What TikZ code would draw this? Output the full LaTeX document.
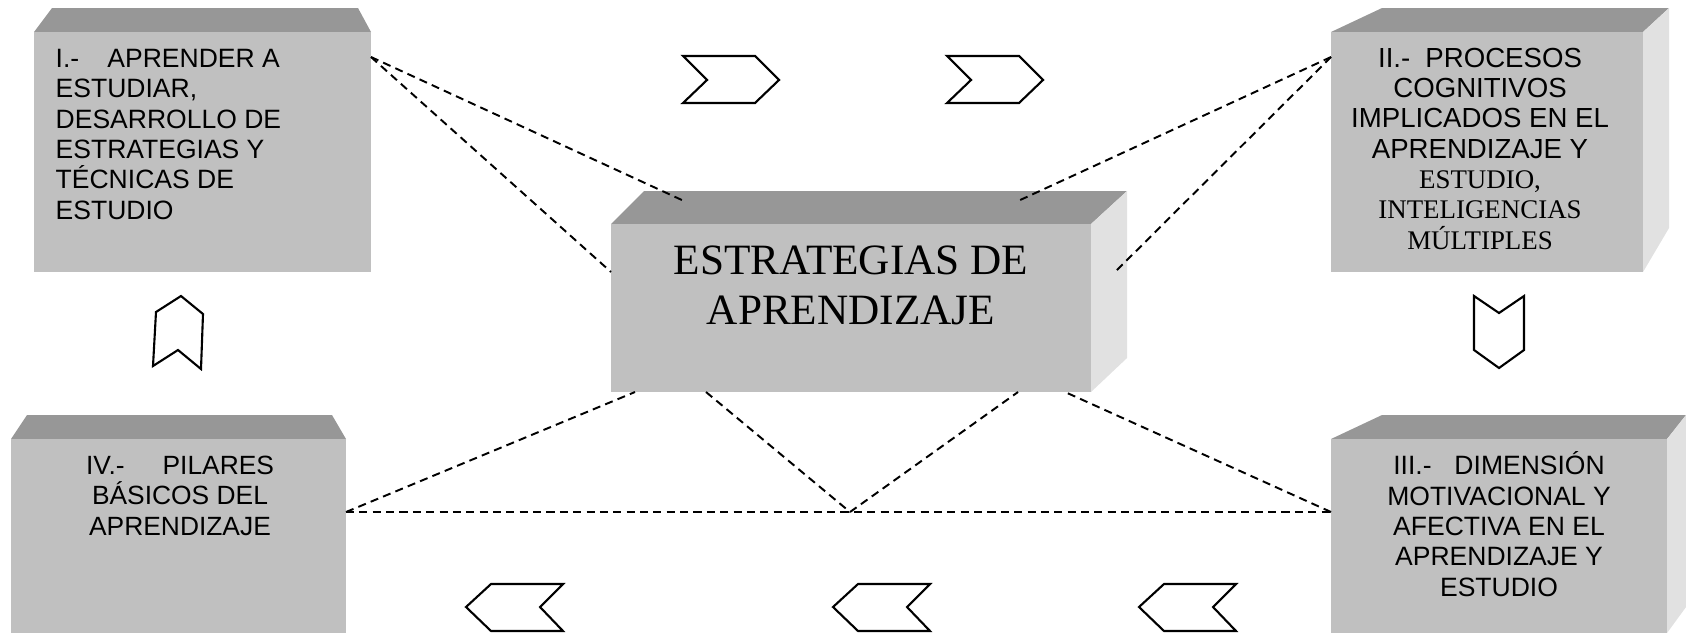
\documentclass[tikz,border=0pt]{standalone}
\usepackage{fontspec}
\setmainfont{Liberation Sans}
\newfontfamily\timesfont{Liberation Serif}
\definecolor{facegray}{HTML}{C0C0C0}
\definecolor{topgray}{HTML}{979797}
\definecolor{sidegray}{HTML}{E1E1E1}

\begin{document}
\begin{tikzpicture}[x=0.01cm,y=-0.01cm]
\tikzstyle{frontface}=[fill=facegray]
\tikzstyle{topface}=[fill=topgray]
\tikzstyle{sideface}=[fill=sidegray]
\tikzstyle{link}=[dash pattern=on 2.3pt off 1.5pt,line width=0.55pt]
\tikzstyle{chevron}=[draw=black,fill=white,line width=0.6pt]
\tikzstyle{boxtext}=[inner sep=0pt,anchor=base,align=center]
\useasboundingbox (0,0) rectangle (1686,633);

% I (top left)
\fill[topface] (34,32) -- (52,8) -- (358,8) -- (371,32) -- cycle;
\fill[frontface] (34,32) rectangle (371,272);
% II (top right)
\fill[topface] (1331,32) -- (1382,8) -- (1669,8) -- (1643,32) -- cycle;
\fill[sideface] (1643,32) -- (1669,8) -- (1669,228) -- (1643,272) -- cycle;
\fill[frontface] (1331,32) rectangle (1643,272);
% centre
\fill[topface] (611,224) -- (644,191) -- (1127,191) -- (1091,224) -- cycle;
\fill[sideface] (1091,224) -- (1127,191) -- (1127,358) -- (1091,392) -- cycle;
\fill[frontface] (611,224) rectangle (1091,392);
% IV (bottom left)
\fill[topface] (11,439) -- (27,415) -- (332,415) -- (346,439) -- cycle;
\fill[frontface] (11,439) rectangle (346,633);
% III (bottom right)
\fill[topface] (1331,439) -- (1382,415) -- (1686,415) -- (1667,439) -- cycle;
\fill[sideface] (1667,439) -- (1686,415) -- (1686,607) -- (1667,633) -- cycle;
\fill[frontface] (1331,439) rectangle (1667,633);

% texts (base = last line)
\node[boxtext,anchor=base west,align=left,font=\fontsize{7.54}{8.62}\selectfont] (txtI) at (55,219)
  {I.-\hspace{8pt}APRENDER A\\ESTUDIAR,\\DESARROLLO DE\\ESTRATEGIAS Y\\TÉCNICAS DE\\ESTUDIO};
\node[boxtext,font=\fontsize{7.85}{8.62}\selectfont] (txtII) at (1480,249)
  {II.-\hspace{4.3pt}PROCESOS\\COGNITIVOS\\IMPLICADOS EN EL\\APRENDIZAJE Y\\
   {\timesfont\fontsize{7.65}{8.62}\selectfont ESTUDIO,}\\
   {\timesfont\fontsize{7.65}{8.62}\selectfont INTELIGENCIAS}\\
   {\timesfont\fontsize{7.65}{8.62}\selectfont MÚLTIPLES}};
\node[boxtext,font=\timesfont\fontsize{12.3}{14.2}\selectfont] (txtC) at (851,324)
  {ESTRATEGIAS DE\\APRENDIZAJE};
\node[boxtext,font=\fontsize{7.5}{8.62}\selectfont] (txtIV) at (180,535)
  {IV.-\hspace{10.8pt}PILARES\\BÁSICOS DEL\\APRENDIZAJE};
\node[boxtext,font=\fontsize{7.54}{8.62}\selectfont] (txtIII) at (1499,596)
  {III.-\hspace{6.5pt}DIMENSIÓN\\MOTIVACIONAL Y\\AFECTIVA EN EL\\APRENDIZAJE Y\\ESTUDIO};

% link ends
\foreach \name/\point in {
	aI/{371,57},
	aII/{1331,57},
	aIV/{346,512},
	aIII/{1331,512},
	cTL/{684,201},
	cTR/{1018,201},
	cL/{611,272},
	cR/{1115,272},
	cBL/{635,392},
	cB1/{706,392},
	cB2/{1018,392},
	cBR/{1065,392},
	v/{850,512}}
	\coordinate (\name) at (\point);
\foreach \a/\b in {aI/cTL,aI/cL,aII/cTR,aII/cR,aIV/cBL,aIV/aIII,aIII/cBR,cB1/v,v/cB2}
	\draw[link] (\a) -- (\b);

% chevrons
\foreach \x in {683,947}
	\draw[chevron] (\x,56) -- ++(72,0) -- ++(24,24) -- ++(-24,23) -- ++(-72,0) -- ++(24,-23) -- cycle;
\foreach \x in {466,833,1139}
	\draw[chevron] (\x,607) -- ++(25,-23) -- ++(72,0) -- ++(-23,23) -- ++(23,24) -- ++(-72,0) -- cycle;
\draw[chevron] (156,312) -- (181,296) -- (203,314) -- (201,369) -- (178,350) -- (153,366) -- cycle;
\draw[chevron] (1474,296) -- (1499,313) -- (1524,296) -- (1524,350) -- (1499,368) -- (1474,350) -- cycle;
\end{tikzpicture}
\end{document}
